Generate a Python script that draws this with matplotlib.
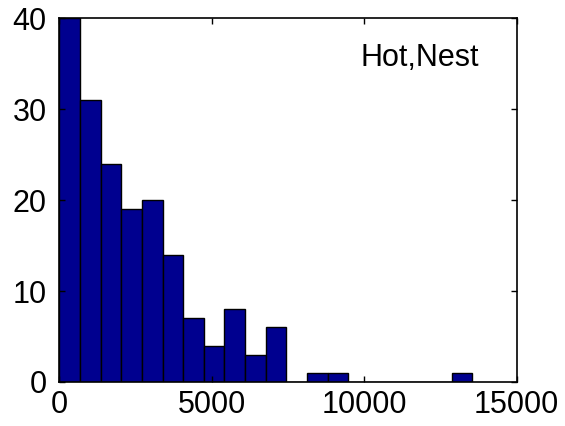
import matplotlib
matplotlib.use("Agg")
import matplotlib.pyplot as plt
import numpy as np

# Histogram data (MATLAB-style hist, 20 bins)
bin_start = 0.0
bin_width = 677.0
counts = [40, 31, 24, 19, 20, 14, 7, 4, 8, 3, 6, 0, 1, 1, 0, 0, 0, 0, 0, 1]
x_ticks = [0, 5000, 10000, 15000]
y_ticks = [0, 10, 20, 30, 40]
label = "Hot,Nest"

plt.rcParams['font.family'] = ['Liberation Sans', 'DejaVu Sans']

fig = plt.figure(figsize=(5.65, 4.26), dpi=100)
ax = fig.add_axes([0.105, 0.1033, 0.8095, 0.8544])

edges = bin_start + bin_width * np.arange(len(counts) + 1)
centers = (edges[:-1] + edges[1:]) / 2
ax.hist(centers, bins=edges, weights=counts, color='#00008F',
        edgecolor='black', linewidth=1.0)

ax.set_xlim(0, 15000)
ax.set_ylim(0, 40)
ax.set_xticks(x_ticks)
ax.set_yticks(y_ticks)
ax.set_xticklabels([str(v) for v in x_ticks])
ax.set_yticklabels([str(v) for v in y_ticks])
ax.tick_params(direction='in', length=4, width=1, labelsize=22,
               top=True, right=True)
ax.tick_params(axis='x', pad=6)
ax.tick_params(axis='y', pad=9)
for s in ax.spines.values():
    s.set_linewidth(1.2)

ax.text(0.659, 0.868, label, transform=ax.transAxes, fontsize=22,
        ha='left', va='baseline')

fig.savefig("out.png", dpi=100)
